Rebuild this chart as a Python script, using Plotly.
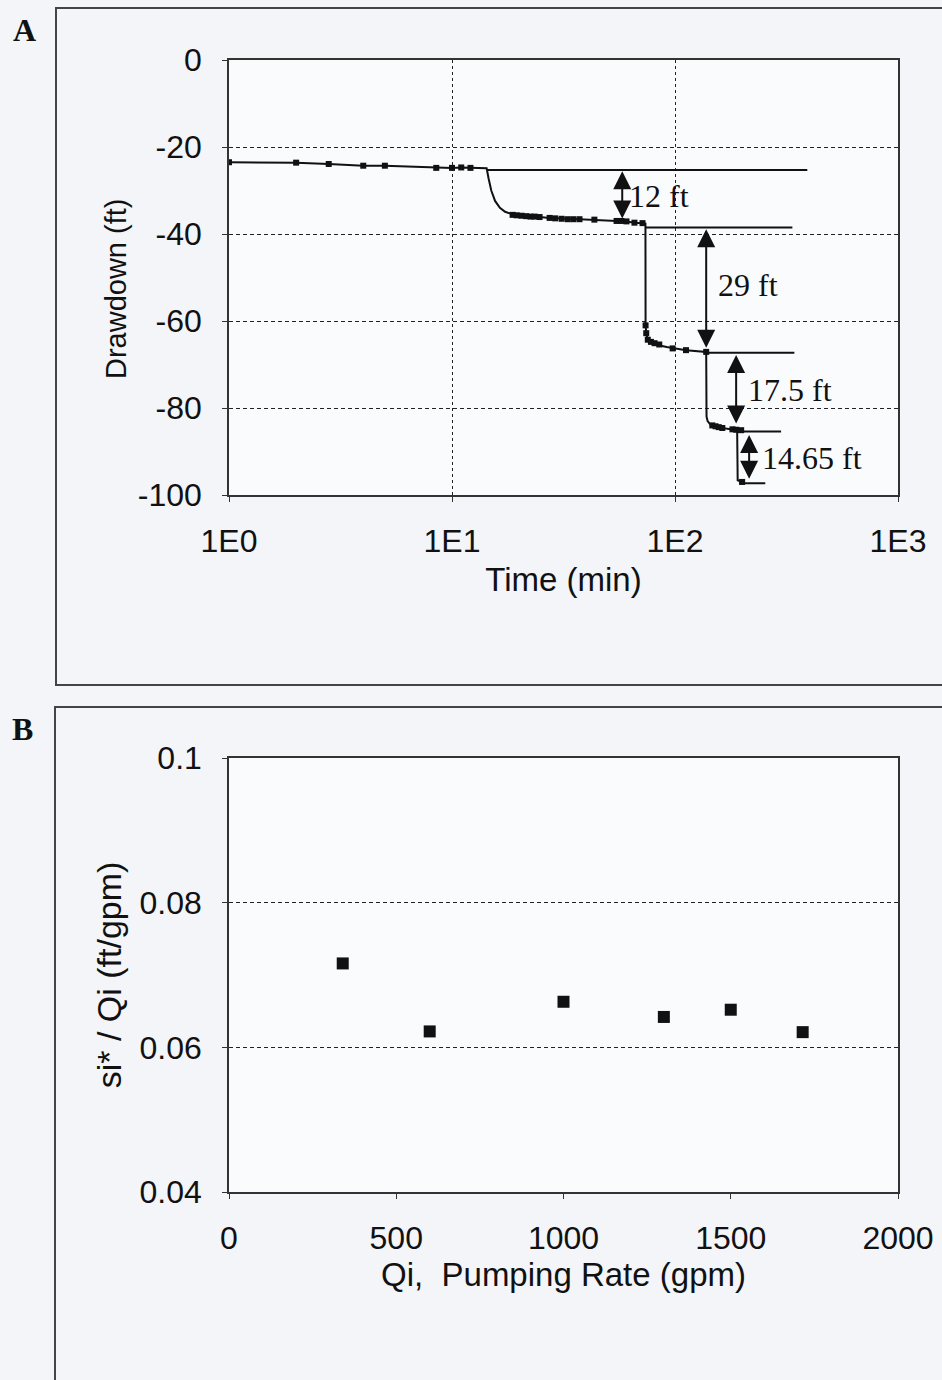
import numpy as np
import plotly.graph_objects as go

# ---------------- Panel A data ----------------
time_curve = [1.0, 2.0, 2.8, 4.0, 5.0, 8.5, 10.0, 11.0, 12.1, 14.3, 14.6, 15.0, 15.6, 16.4, 17.3, 18.3,
              19.0, 24.7, 27.4, 37.3, 43.5, 54.7, 60.6, 65.8, 71.5, 73.7,
              73.8, 74.3, 75.5, 79.5, 91.8, 112, 138,
              138.5, 140, 144, 153, 170, 190,
              191, 200]
dd_curve = [-23.5, -23.6, -23.9, -24.3, -24.3, -24.8, -24.8, -24.7, -24.8, -24.9, -27.3, -30.0, -32.4, -34.0, -34.9, -35.4,
            -35.6, -36.1, -36.3, -36.6, -36.7, -37.0, -37.1, -37.4, -37.5, -37.6,
            -60.7, -62.8, -64.3, -65.3, -66.0, -66.7, -67.1,
            -82.0, -83.0, -83.8, -84.4, -84.8, -85.1,
            -96.6, -97.0]

time_obs = [1.0, 2.0, 2.8, 4.0, 5.0, 8.5, 10.0, 11.0, 12.1,
            18.7, 19.5, 20.5, 21.5, 22.5, 23.5, 24.7, 27.4, 29, 31, 33, 35, 37.3, 43.5,
            54.7, 57.5, 60.6, 65.8, 71.5,
            73.8, 74.3, 75.5, 78, 81, 85, 97.6, 112, 138,
            147, 152, 157, 163, 181, 188, 198, 200]
dd_obs = [-23.5, -23.6, -23.9, -24.3, -24.3, -24.8, -24.8, -24.7, -24.8,
          -35.6, -35.7, -35.8, -35.9, -36.0, -36.0, -36.1, -36.3, -36.4, -36.5, -36.6, -36.6, -36.6, -36.7,
          -37.0, -37.0, -37.1, -37.4, -37.5,
          -61.0, -62.8, -64.3, -64.8, -65.1, -65.4, -66.3, -66.7, -67.1,
          -84.0, -84.2, -84.4, -84.6, -84.9, -85.0, -85.1, -97.0]

level_y = [-25.3, -38.5, -67.3, -85.4, -97.3]
level_t_start = [14.3, 73.7, 138, 190, 194]
level_t_end = [392, 336, 343, 299, 254]

arrow_t = [58, 138, 188, 215]
arrow_top = [-25.6, -38.9, -67.8, -86.2]
arrow_bottom = [-36.8, -66.5, -83.9, -96.6]
arrow_labels = ["12 ft", "29 ft", "17.5 ft", "14.65 ft"]
label_t = [61, 153, 208, 241]
label_y = [-31.3, -51.7, -75.9, -91.5]

a_tickvals = [1, 10, 100, 1000]
a_ticktext = ["1E0", "1E1", "1E2", "1E3"]
a_yvals = [-100, -80, -60, -40, -20, 0]
a_ytext = ["-100", "-80", "-60", "-40", "-20", "0"]

# ---------------- Panel B data ----------------
qi_rate = [340, 600, 1000, 1300, 1500, 1715]
si_ratio = [0.0716, 0.0622, 0.0663, 0.0642, 0.0652, 0.0621]
b_xvals = [0, 500, 1000, 1500, 2000]
b_yvals = [0.04, 0.06, 0.08, 0.1]
b_ytext = ["0.04", "0.06", "0.08", "0.1"]

W, H = 942, 1380
def px(xp):
    return xp / W
def py(yp):
    return 1 - yp / H

fig = go.Figure()

lx, ly = [], []
for t0, t1, yv in zip(level_t_start, level_t_end, level_y):
    lx += [t0, t1, None]
    ly += [yv, yv, None]
fig.add_trace(go.Scatter(x=lx, y=ly, mode="lines", line=dict(color="#111", width=2),
                         xaxis="x", yaxis="y", hoverinfo="skip", showlegend=False))
fig.add_trace(go.Scatter(x=time_curve, y=dd_curve, mode="lines", line=dict(color="#111", width=2),
                         xaxis="x", yaxis="y", showlegend=False))
fig.add_trace(go.Scatter(x=time_obs, y=dd_obs, mode="markers",
                         marker=dict(symbol="square", size=6, color="#111"),
                         xaxis="x", yaxis="y", showlegend=False))

fig.add_trace(go.Scatter(x=qi_rate, y=si_ratio, mode="markers",
                         marker=dict(symbol="square", size=12, color="#111"),
                         xaxis="x2", yaxis="y2", showlegend=False))

annotations = []
serif = dict(family="Liberation Serif", size=32, color="#111")
for t, y0, y1 in zip(arrow_t, arrow_top, arrow_bottom):
    annotations.append(dict(x=np.log10(t), y=y0, ax=np.log10(t), ay=y1, xref="x", yref="y",
                            axref="x", ayref="y", showarrow=True, arrowside="end+start",
                            arrowhead=2, startarrowhead=2, arrowsize=1.8, startarrowsize=1.8,
                            arrowwidth=2, arrowcolor="#111", text="", standoff=0, startstandoff=0))
for t, y, s in zip(label_t, label_y, arrow_labels):
    annotations.append(dict(x=np.log10(t), y=y, xref="x", yref="y", text=s, showarrow=False,
                            xanchor="left", yanchor="middle", font=serif))
letter_font = dict(family="Liberation Serif", size=32, color="#111")
annotations.append(dict(x=px(24), y=py(30), xref="paper", yref="paper", text="<b>A</b>",
                        xanchor="center", yanchor="middle", showarrow=False, font=letter_font))
annotations.append(dict(x=px(22), y=py(729), xref="paper", yref="paper", text="<b>B</b>",
                        xanchor="center", yanchor="middle", showarrow=False, font=letter_font))
annotations.append(dict(x=px(116), y=py(289), xref="paper", yref="paper", text="Drawdown (ft)",
                        textangle=-90, xanchor="center", yanchor="middle", showarrow=False,
                        font=dict(family="Liberation Sans", size=29, color="#111")))

shapes = [
    dict(type="rect", xref="paper", yref="paper", x0=px(56), x1=1.02, y0=py(685), y1=py(8),
         line=dict(color="#444", width=2), layer="below"),
    dict(type="rect", xref="paper", yref="paper", x0=px(55), x1=1.02, y0=-0.02, y1=py(707),
         line=dict(color="#444", width=2), layer="below"),
]

tickfont = dict(family="Liberation Sans", size=32, color="#111")
htitle = dict(family="Liberation Sans", size=33, color="#111")
vtitle = dict(family="Liberation Sans", size=34, color="#111")
axis_common = dict(showline=True, linecolor="#333", linewidth=1.5, mirror=True,
                   ticks="outside", ticklen=5, tickcolor="#333", tickfont=tickfont,
                   zeroline=False, automargin=False)

fig.update_layout(
    width=W, height=H,
    margin=dict(l=0, r=0, t=0, b=0),
    paper_bgcolor="#f3f5f9",
    plot_bgcolor="#fafbfd",
    showlegend=False,
    annotations=annotations,
    shapes=shapes,
    xaxis=dict(type="log", range=[0, 3], domain=[px(229), px(898)], anchor="y",
               tickvals=a_tickvals, ticktext=a_ticktext,
               showgrid=True, gridcolor="#222", gridwidth=1, griddash="dot",
               ticklabelstandoff=12,
               title=dict(text="Time (min)", font=htitle, standoff=10), **axis_common),
    yaxis=dict(range=[-100, 0], domain=[py(495), py(60)], anchor="x",
               tickvals=a_yvals, ticktext=a_ytext,
               showgrid=True, gridcolor="#222", gridwidth=1, griddash="4px,3px",
               ticklabelstandoff=14, **axis_common),
    xaxis2=dict(range=[0, 2000], domain=[px(229), px(898)], anchor="y2",
                tickvals=b_xvals, showgrid=False,
                ticklabelstandoff=12,
                title=dict(text="Qi,  Pumping Rate (gpm)", font=htitle, standoff=6), **axis_common),
    yaxis2=dict(range=[0.04, 0.1], domain=[py(1192), py(758)], anchor="x2",
                tickvals=b_yvals, ticktext=b_ytext,
                showgrid=True, gridcolor="#222", gridwidth=1, griddash="4px,3px",
                ticklabelstandoff=14,
                title=dict(text="si* / Qi (ft/gpm)", font=vtitle, standoff=8), **axis_common),
)

fig.write_html("out.html", config={"displayModeBar": False},
               post_script="document.body.style.margin='0';document.body.style.padding='0';")
